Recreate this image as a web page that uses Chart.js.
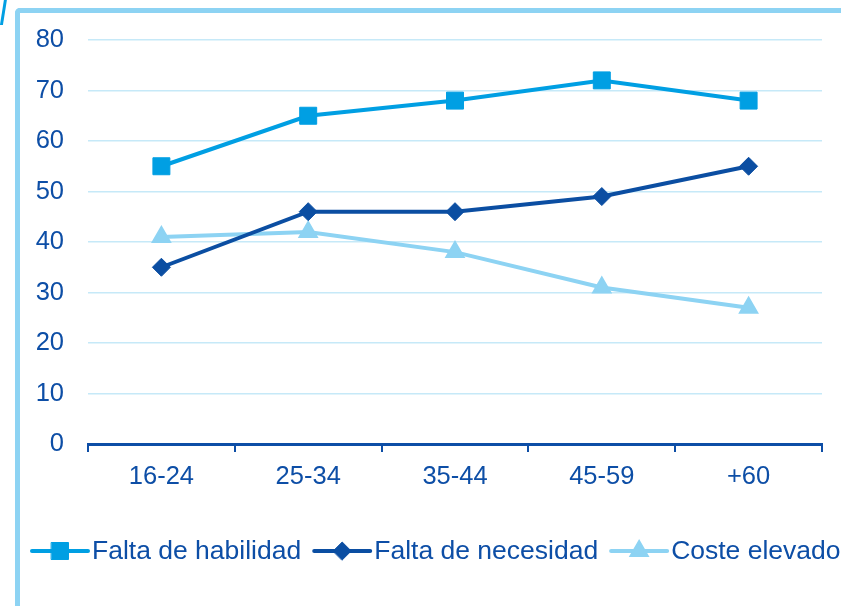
<!DOCTYPE html>
<html>
<head>
<meta charset="utf-8">
<script src="https://cdn.jsdelivr.net/npm/chart.js@4.4.1/dist/chart.umd.min.js"></script>
<style>
    html, body { margin: 0; padding: 0; background: #fff; overflow: hidden; }
    #wrap { position: relative; width: 841px; height: 606px; overflow: hidden; }
    #frame {
        position: absolute; left: 15px; top: 8px; width: 900px; height: 700px;
        border-top: 5px solid #8dd3f3; border-left: 5px solid #8dd3f3;
        border-top-left-radius: 5px;
    }
    #nick {
        position: absolute; left: 2px; top: -1px; width: 3px; height: 26px;
        background: #009fe3; transform: skewX(-9deg);
    }
    canvas { position: absolute; left: 0; top: 0; }
</style>
</head>
<body>
<div id="wrap">
    <div id="nick"></div>
    <div id="frame"></div>
    <canvas id="ageChart" width="841" height="606"></canvas>
</div>
<script>
const ageGroups = ['16-24', '25-34', '35-44', '45-59', '+60'];
const faltaHabilidad = [55, 65, 68, 72, 68];
const faltaNecesidad = [35, 46, 46, 49, 55];
const costeElevado = [41, 42, 38, 31, 27];
const yMin = 0;
const yMax = 80;
const yStep = 10;

const textColor = '#0d4ea6';
const fontFamily = '"Liberation Sans", Arial, sans-serif';

// legend drawn by hand: line + marker + label, like the office-style legend
const lineLegend = {
    id: 'lineLegend',
    afterDraw(chart) {
        const ctx = chart.ctx;
        let x = 32;
        const y = 551;
        ctx.save();
        ctx.font = '26.5px ' + fontFamily;
        ctx.textBaseline = 'middle';
        chart.data.datasets.forEach((ds) => {
            ctx.strokeStyle = ds.borderColor;
            ctx.lineWidth = 4;
            ctx.lineCap = 'round';
            ctx.beginPath();
            ctx.moveTo(x, y);
            ctx.lineTo(x + 56, y);
            ctx.stroke();

            ctx.fillStyle = ds.pointBackgroundColor;
            ctx.strokeStyle = ds.pointBorderColor;
            ctx.lineWidth = ds.pointBorderWidth;
            Chart.helpers.drawPoint(ctx, {
                pointStyle: ds.pointStyle,
                radius: ds.pointRadius,
                rotation: 0,
                borderWidth: ds.pointBorderWidth
            }, x + 28, y);

            ctx.fillStyle = textColor;
            ctx.fillText(ds.label, x + 60, y + 1);
            x += 60 + ctx.measureText(ds.label).width + 13;
        });
        ctx.restore();
    }
};

const ageData = {
    labels: ageGroups,
    datasets: [{
            label: 'Falta de habilidad',
            data: faltaHabilidad,
            borderColor: '#009fe3',
            backgroundColor: '#009fe3',
            borderWidth: 4,
            pointStyle: 'rect',
            pointRadius: 12,
            pointBackgroundColor: '#009fe3',
            pointBorderColor: '#009fe3',
            pointBorderWidth: 1,
        },
        {
            label: 'Falta de necesidad',
            data: faltaNecesidad,
            borderColor: '#0b4ea2',
            backgroundColor: '#0b4ea2',
            borderWidth: 4,
            pointStyle: 'rectRot',
            pointRadius: 9,
            pointBackgroundColor: '#0b4ea2',
            pointBorderColor: '#0b4ea2',
            pointBorderWidth: 1,
        },
        {
            label: 'Coste elevado',
            data: costeElevado,
            borderColor: '#8dd3f3',
            backgroundColor: '#8dd3f3',
            borderWidth: 4,
            pointStyle: 'triangle',
            pointRadius: 10,
            pointBackgroundColor: '#8dd3f3',
            pointBorderColor: '#8dd3f3',
            pointBorderWidth: 2,
        }
    ]
};

const ageConfig = {
    type: 'line',
    data: ageData,
    options: {
        responsive: false,
        animation: false,
        layout: {
            padding: { top: 40, right: 19, bottom: 100, left: 0 }
        },
        plugins: {
            legend: { display: false },
            title: { display: false },
            tooltip: { enabled: false }
        },
        scales: {
            x: {
                offset: true,
                afterFit: (scale) => { scale.height = 62; },
                grid: {
                    display: true,
                    drawOnChartArea: false,
                    drawTicks: true,
                    tickLength: 8,
                    offset: true,
                    color: textColor,
                    lineWidth: 2
                },
                border: { display: true, color: textColor, width: 3 },
                ticks: {
                    color: textColor,
                    padding: 10,
                    font: { size: 25.5, family: fontFamily }
                }
            },
            y: {
                min: yMin,
                max: yMax,
                afterFit: (scale) => { scale.width = 88; },
                grid: {
                    color: '#c6e9f8',
                    lineWidth: 1.5,
                    drawTicks: false
                },
                border: { display: false },
                ticks: {
                    stepSize: yStep,
                    color: textColor,
                    padding: 24,
                    font: { size: 25.5, family: fontFamily }
                }
            }
        }
    },
    plugins: [lineLegend]
};

const ageChart = new Chart(
    document.getElementById('ageChart'),
    ageConfig
);
</script>
</body>
</html>
